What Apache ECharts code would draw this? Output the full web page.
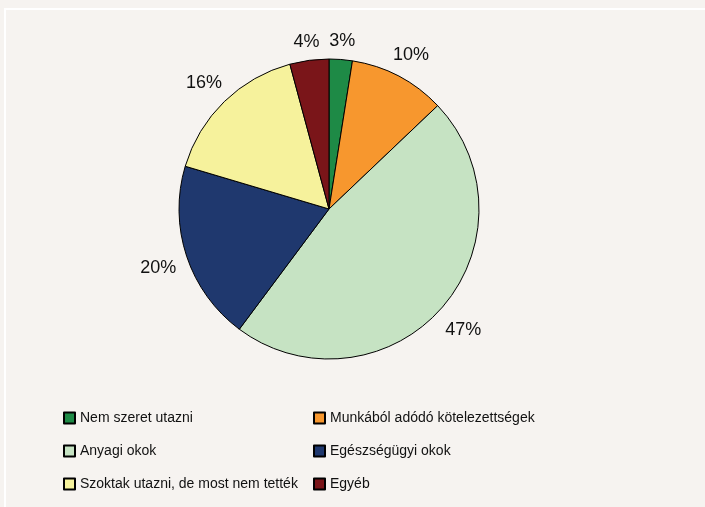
<!DOCTYPE html>
<html>
<head>
<meta charset="utf-8">
<script src="https://cdn.jsdelivr.net/npm/echarts@6/dist/echarts.min.js"></script>
<style>
  html, body { margin: 0; padding: 0; background: #f6f3f0; }
  #chart { width: 705px; height: 507px; }
</style>
</head>
<body>
<div id="chart"></div>
<script>
const categories = ['Nem szeret utazni', 'Munkából adódó kötelezettségek', 'Anyagi okok', 'Egészségügyi okok', 'Szoktak utazni, de most nem tették', 'Egyéb']
const values = [2.5, 10.4, 47.3, 19.4, 16.2, 4.2]
const percentLabels = ['3%', '10%', '47%', '20%', '16%', '4%']
const colors = ['#1e8a46', '#f7972e', '#c6e3c3', '#1f386e', '#f6f29c', '#7a1519']

const fontFamily = '"Liberation Sans", Arial, sans-serif'
const cx = 329, cy = 209, R = 150, labelGap = 10

// mid angle of every slice, measured clockwise from 12 o'clock
const total = values.reduce((a, b) => a + b, 0)
let acc = 0
const midAngles = values.map(v => {
  const m = acc + v / 2
  acc += v
  return m / total * Math.PI * 2
})

const chart = echarts.init(document.getElementById('chart'))

const pieData = categories.map((name, i) => ({ name, value: values[i] }))

const legendStyle = {
  orient: 'vertical',
  icon: 'rect',
  padding: 0,
  itemWidth: 11,
  itemHeight: 11,
  itemGap: 19,
  textStyle: { fontFamily, fontSize: 14, color: '#111' }
}

chart.setOption({
  backgroundColor: '#f6f3f0',
  animation: false,
  color: colors,
  graphic: [{
    type: 'rect',
    shape: { x: 5, y: 9, width: 720, height: 520 },
    style: { fill: 'none', stroke: '#ffffff', lineWidth: 2 },
    silent: true
  }],
  legend: [
    Object.assign({ left: 63, top: 411, data: [categories[0], categories[2], categories[4]] }, legendStyle),
    Object.assign({ left: 313, top: 411, data: [categories[1], categories[3], categories[5]] }, legendStyle)
  ],
  series: [{
    type: 'pie',
    center: [cx, cy],
    radius: [0, R],
    startAngle: 90,
    clockwise: true,
    itemStyle: { borderColor: '#000', borderWidth: 1 },
    emphasis: { disabled: true },
    label: {
      show: true,
      position: 'outside',
      fontFamily,
      fontSize: 18,
      color: '#111',
      formatter: p => percentLabels[p.dataIndex]
    },
    labelLine: { show: false },
    // put each label a fixed gap outside the rim, like the original
    labelLayout: params => {
      const a = midAngles[params.dataIndex]
      const ux = Math.sin(a), uy = -Math.cos(a)
      const w = params.labelRect.width, h = params.labelRect.height
      const r = R + labelGap + Math.abs(ux) * w / 2 + Math.abs(uy) * h / 2
      return { x: cx + r * ux, y: cy + r * uy + 2, align: 'center', verticalAlign: 'middle' }
    },
    data: pieData
  }]
})
</script>
</body>
</html>
